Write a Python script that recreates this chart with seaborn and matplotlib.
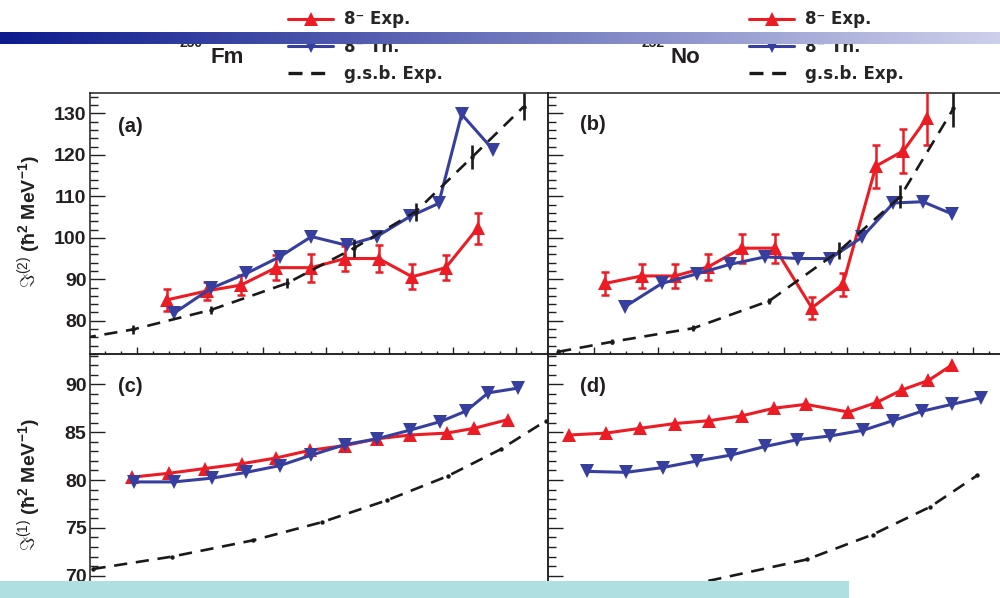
import numpy as np
import matplotlib
matplotlib.use("Agg")
import matplotlib.pyplot as plt
from matplotlib.ticker import MultipleLocator, NullFormatter
from matplotlib.colors import LinearSegmentedColormap
from matplotlib.patches import Rectangle
import seaborn as sns

# ---------------------------------------------------------------------------
# Rotational frequency hbar*omega (MeV) and moments of inertia (hbar^2/MeV)
# ---------------------------------------------------------------------------
# 250Fm, dynamic moment J(2)
fm_w2_exp = [0.1117, 0.1278, 0.1412, 0.1551, 0.1691, 0.1824, 0.1957, 0.2090, 0.2223, 0.2349]
fm_j2_exp = [85.0, 87.2, 88.6, 92.8, 92.8, 95.0, 95.0, 90.6, 92.8, 102.3]
fm_j2_exp_err = [2.7, 2.2, 2.4, 3.0, 3.4, 3.0, 3.2, 3.0, 3.0, 3.8]
fm_w2_th = [0.1146, 0.1293, 0.1433, 0.1565, 0.1691, 0.1831, 0.1950, 0.2083, 0.2195, 0.2286, 0.2411]
fm_j2_th = [81.8, 87.8, 91.4, 95.4, 100.3, 98.2, 100.3, 105.2, 108.3, 129.8, 121.2]
fm_w2_gsb = [0.0700, 0.0985, 0.1293, 0.1593, 0.1859, 0.2104, 0.2328, 0.2531]
fm_j2_gsb = [74.9, 77.9, 82.6, 89.0, 97.5, 106.3, 119.5, 131.6]
fm_j2_gsb_err = [0.8, 1.0, 1.0, 1.2, 2.2, 2.2, 2.8, 3.3]

# 252No, dynamic moment J(2)
no_w2_exp = [0.1042, 0.1187, 0.1319, 0.1451, 0.1583, 0.1715, 0.1861, 0.1984, 0.2115, 0.2224, 0.2316]
no_j2_exp = [89.0, 90.8, 90.8, 93.0, 97.5, 97.5, 83.1, 88.8, 117.3, 121.0, 128.8]
no_j2_exp_err = [2.7, 3.0, 3.0, 3.2, 3.5, 3.5, 2.6, 2.8, 5.2, 5.3, 6.5]
no_w2_th = [0.1121, 0.1267, 0.1405, 0.1537, 0.1676, 0.1808, 0.1933, 0.2059, 0.2184, 0.2301, 0.2418]
no_j2_th = [83.4, 89.0, 91.3, 93.6, 95.4, 95.0, 95.0, 100.1, 108.4, 108.7, 105.7]
no_w2_gsb = [0.0856, 0.1068, 0.1392, 0.1693, 0.1970, 0.2211, 0.2422]
no_j2_gsb = [72.5, 74.9, 78.2, 84.8, 96.9, 109.9, 131.2]
no_j2_gsb_err = [0.6, 0.6, 0.7, 0.8, 2.0, 2.8, 4.4]

# 250Fm, kinematic moment J(1)
fm_w1_exp = [0.0982, 0.1125, 0.1269, 0.1415, 0.1551, 0.1684, 0.1824, 0.1950, 0.2083, 0.2227, 0.2335, 0.2468]
fm_j1_exp = [80.3, 80.7, 81.2, 81.7, 82.3, 83.1, 83.6, 84.3, 84.7, 84.9, 85.4, 86.3]
fm_w1_th = [0.0989, 0.1146, 0.1299, 0.1433, 0.1565, 0.1691, 0.1824, 0.1950, 0.2080, 0.2202, 0.2303, 0.2391, 0.2510]
fm_j1_th = [79.8, 79.8, 80.2, 80.8, 81.5, 82.6, 83.7, 84.3, 85.2, 86.1, 87.2, 89.1, 89.6]
fm_w1_gsb = [0.0824, 0.1139, 0.1460, 0.1733, 0.1992, 0.2230, 0.2440, 0.2621]
fm_j1_gsb = [70.7, 72.0, 73.7, 75.6, 77.9, 80.4, 83.2, 86.2]

# 252No, kinematic moment J(1)
no_w1_exp = [0.0900, 0.1046, 0.1181, 0.1319, 0.1455, 0.1583, 0.1711, 0.1837, 0.2006, 0.2118, 0.2217, 0.2323, 0.2415]
no_j1_exp = [84.7, 84.9, 85.4, 85.9, 86.2, 86.7, 87.5, 87.9, 87.1, 88.1, 89.4, 90.4, 92.0]
no_w1_th = [0.0969, 0.1125, 0.1270, 0.1408, 0.1540, 0.1676, 0.1801, 0.1933, 0.2065, 0.2182, 0.2299, 0.2415, 0.2532]
no_j1_th = [80.9, 80.8, 81.3, 82.0, 82.6, 83.5, 84.2, 84.6, 85.2, 86.2, 87.2, 87.9, 88.6]
no_w1_gsb = [0.1081, 0.1458, 0.1841, 0.2102, 0.2330, 0.2517]
no_j1_gsb = [67.4, 69.5, 71.7, 74.3, 77.2, 80.5]

legend_labels = ["8\u207b Exp.", "8\u207b Th.", "g.s.b. Exp."]
nuclei = [("250", "Fm"), ("252", "No")]
panel_tags = ["(a)", "(b)", "(c)", "(d)"]

RED = "#ec1c24"
BLUE = "#363f9e"
BLACK = "#1a1a1a"
INK = "#231f20"

W, H = 1000, 598

sns.set_style("ticks")
plt.rcParams["font.family"] = ["Liberation Sans", "DejaVu Sans"]
plt.rcParams["mathtext.fontset"] = "custom"
plt.rcParams["mathtext.rm"] = "Liberation Sans"
plt.rcParams["mathtext.bf"] = "Liberation Sans:bold"
plt.rcParams["mathtext.it"] = "Liberation Sans:italic"

fig = plt.figure(figsize=(W / 100, H / 100), dpi=100)
fig.patch.set_facecolor("white")


def px_box(left, top, right, bottom):
    return [left / W, 1 - bottom / H, (right - left) / W, (bottom - top) / H]


def fx(px):
    return px / W


def fy(py):
    return 1 - py / H


ax_a = fig.add_axes(px_box(90, 92.7, 548, 354.3))
ax_b = fig.add_axes(px_box(547.5, 92.7, 1005.5, 354.3))
ax_c = fig.add_axes(px_box(90, 354.3, 548, 615))
ax_d = fig.add_axes(px_box(547.5, 354.3, 1005.5, 615))

XLIM = (0.0814, 0.2628)


def draw_panel(ax, w_exp, j_exp, w_th, j_th, w_gsb, j_gsb, exp_err=None, gsb_err=None):
    sns.lineplot(x=w_exp, y=j_exp, ax=ax, color=RED, marker="^", markersize=9.5,
                 markeredgewidth=0, linewidth=2.2, sort=False, legend=False, zorder=3)
    h_exp = ax.lines[-1]
    if exp_err is not None:
        ax.errorbar(w_exp, j_exp, yerr=exp_err, fmt="none", ecolor=RED,
                    elinewidth=1.8, capsize=2.6, capthick=1.8, zorder=3)
    sns.lineplot(x=w_th, y=j_th, ax=ax, color=BLUE, marker="v", markersize=9.5,
                 markeredgewidth=0, linewidth=2.2, sort=False, legend=False, zorder=3)
    h_th = ax.lines[-1]
    sns.lineplot(x=w_gsb, y=j_gsb, ax=ax, color=BLACK, marker="o", markersize=3.2,
                 markeredgewidth=0, linewidth=1.9, linestyle=(0, (5, 3.3)),
                 sort=False, legend=False, zorder=4)
    h_gsb = ax.lines[-1]
    if gsb_err is not None:
        ax.errorbar(w_gsb, j_gsb, yerr=gsb_err, fmt="none", ecolor=BLACK,
                    elinewidth=1.9, capsize=0, zorder=4)
    return [h_exp, h_th, h_gsb]


handles = draw_panel(ax_a, fm_w2_exp, fm_j2_exp, fm_w2_th, fm_j2_th, fm_w2_gsb, fm_j2_gsb,
                     fm_j2_exp_err, fm_j2_gsb_err)
draw_panel(ax_b, no_w2_exp, no_j2_exp, no_w2_th, no_j2_th, no_w2_gsb, no_j2_gsb,
           no_j2_exp_err, no_j2_gsb_err)
draw_panel(ax_c, fm_w1_exp, fm_j1_exp, fm_w1_th, fm_j1_th, fm_w1_gsb, fm_j1_gsb)
draw_panel(ax_d, no_w1_exp, no_j1_exp, no_w1_th, no_j1_th, no_w1_gsb, no_j1_gsb)

for ax in (ax_a, ax_b):
    ax.set_ylim(71.9, 135.0)
    ax.yaxis.set_major_locator(MultipleLocator(10))
    ax.yaxis.set_minor_locator(MultipleLocator(2))
for ax in (ax_c, ax_d):
    ax.set_ylim(65.9, 93.13)
    ax.yaxis.set_major_locator(MultipleLocator(5))
    ax.yaxis.set_minor_locator(MultipleLocator(1))

for ax in (ax_a, ax_b, ax_c, ax_d):
    ax.set_xlim(*XLIM)
    ax.xaxis.set_major_locator(MultipleLocator(0.025))
    ax.xaxis.set_minor_locator(MultipleLocator(0.025 / 4))
    ax.set_xlabel("")
    ax.set_ylabel("")
    ax.set_facecolor("none")
    for sp in ax.spines.values():
        sp.set_visible(True)
        sp.set_linewidth(1.1)
        sp.set_color(INK)
    ax.tick_params(which="both", direction="in", top=False, right=False,
                   labelbottom=False, color=INK, width=1.0)
    ax.tick_params(axis="y", which="major", length=10.5)
    ax.tick_params(axis="y", which="minor", length=5.4)
    ax.tick_params(axis="x", which="major", length=4.8)
    ax.tick_params(axis="x", which="minor", length=2.4)
    ax.tick_params(axis="y", labelsize=14, labelcolor=INK, pad=2.5)
    for lab in ax.get_yticklabels():
        lab.set_fontweight("bold")

for ax in (ax_b, ax_d):
    ax.tick_params(axis="y", labelleft=False)
    ax.yaxis.set_major_formatter(NullFormatter())

# panel tags
for ax, tag, (px, py) in zip((ax_a, ax_b, ax_c, ax_d), panel_tags,
                             [(130, 126), (593, 124), (130, 386), (593, 387)]):
    fig.text(fx(px), fy(py), tag, ha="center", va="center", fontsize=14.5,
             fontweight="bold", color=INK)

# y-axis titles
fig.text(fx(29), fy(222), r"$\Im^{(2)}\ \mathbf{(\hbar^{2}\ MeV^{-1})}$", rotation=90,
         ha="center", va="center", fontsize=14, color=INK)
fig.text(fx(29), fy(485), r"$\Im^{(1)}\ \mathbf{(\hbar^{2}\ MeV^{-1})}$", rotation=90,
         ha="center", va="center", fontsize=14, color=INK)

# nucleus names
for (mass, sym), (mx, sx) in zip(nuclei, [(180, 210), (641, 670)]):
    fig.text(fx(mx), fy(47), mass, ha="left", va="baseline", fontsize=10,
             fontweight="bold", color=INK)
    fig.text(fx(sx), fy(63), sym, ha="left", va="baseline", fontsize=16,
             fontweight="bold", color=INK)

# legends
leg_prop = {"family": "DejaVu Sans", "weight": "bold", "size": 12}
for lx in (288, 749):
    leg = fig.legend(handles, legend_labels, loc="upper left",
                     bbox_to_anchor=(fx(lx), fy(10.5)), bbox_transform=fig.transFigure,
                     frameon=False, borderpad=0, borderaxespad=0, handlelength=2.7,
                     handletextpad=0.65, labelspacing=0.55, prop=leg_prop)
    gsb_key = leg.get_lines()[2]
    gsb_key.set_marker("")
    gsb_key.set_linestyle((0, (4.2, 2.6)))
    gsb_key.set_linewidth(2.4)

# header band
band = fig.add_axes(px_box(0, 31.7, 1000, 44.3), zorder=10)
band_cmap = LinearSegmentedColormap.from_list("band", ["#0c1a8d", "#cdd0eb"])
band.imshow(np.linspace(0, 1, 512)[None, :], aspect="auto", cmap=band_cmap,
            extent=[0, 1, 0, 1])
band.set_axis_off()

# footer box
fig.add_artist(Rectangle((0, 0), fx(849), (H - 580.7) / H, transform=fig.transFigure,
                         facecolor="#b0dfe2", edgecolor="none", zorder=10))

fig.savefig("out.png", dpi=100, facecolor="white")
